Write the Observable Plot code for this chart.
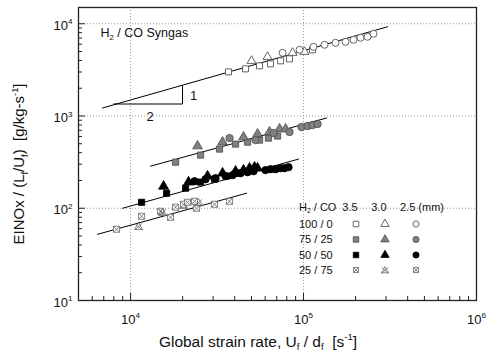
<!DOCTYPE html>
<html><head><meta charset="utf-8">
<script src="https://cdn.jsdelivr.net/npm/d3@7"></script>
<script src="https://cdn.jsdelivr.net/npm/@observablehq/plot@0.6"></script>
<style>
body{margin:0;background:#fff}
svg{display:block}
text{white-space:pre}
</style>
</head><body><div id="chart"></div>
<script>
// ---- Data (strain rate [1/s], EINOx/(Lf/Uf)) ----
// H2/CO = 100/0
const x100_35 = [36850, 46210, 55670, 64420, 73670, 82990, 112700];
const y100_35 = [3008, 3243, 3496, 3675, 3962, 4165, 5217];
const x100_30 = [50060, 61910, 86390, 101340];
const y100_30 = [3962, 4378, 4840, 4962];
const x100_25 = [75650, 94830, 114200, 132200, 153100, 175000, 194600, 213400, 234400, 253900];
const y100_25 = [4840, 5217, 5623, 5915, 6218, 6373, 6700, 7043, 7222, 7786];
// H2/CO = 75/25
const x75_35 = [18200, 25390, 32680, 40460, 47450, 55670, 62730, 70790];
const y75_35 = [316, 377, 438, 496, 521, 548, 576, 606];
const x75_30 = [24380, 34030, 44980, 54210, 63570, 72700, 78740];
const y75_30 = [472, 521, 591, 637, 670, 723, 723];
const x75_25 = [37350, 52780, 67050, 82990, 97370, 105500, 112700, 120500];
const y75_25 = [576, 548, 653, 670, 759, 778, 798, 818];
// H2/CO = 50/50
const x50_35 = [11580, 16150, 20800, 25390, 30590, 35880, 42100];
const y50_35 = [116, 145.5, 165, 192, 206.5, 223, 240];
const x50_30 = [15520, 21640, 27860, 34030, 40460, 44980, 48740, 52080, 54210];
const y50_30 = [173, 192, 223, 240, 252, 259, 272, 279, 272];
const x50_25 = [23440, 27140, 30980, 35400, 38900, 43250, 47450, 51390, 60270, 64420, 68860, 73670, 77690, 81890];
const y50_25 = [196, 206.5, 212, 223, 228.5, 240, 246, 252, 259, 265, 265, 272, 272, 279];
// H2/CO = 25/75
const x25_35 = [8300, 11580, 14900, 17030, 24070];
const y25_35 = [59.2, 81.8, 92.7, 79.8, 100];
const x25_30 = [11120, 15310, 20250, 24720];
const y25_30 = [63.7, 90.5, 107.9, 116];
const x25_25 = [18200, 20250, 21350, 23440, 30590, 37350];
const y25_25 = [102.6, 110.5, 116, 119, 110.5, 119];
// Fit lines (end points)
const fit100x = [6890, 306000], fit100y = [1222, 9276];
const fit75x = [13050, 135900], fit75y = [286, 951];
const fit50x = [8990, 93500], fit50y = [100, 341];
const fit25x = [6445, 46900], fit25y = [52.2, 145.6];
// slope triangle (1:2)
const slopeX = [7980, 19970, 19970], slopeY = [1349, 1349, 2118];
const slopeRise = "1", slopeRun = "2";
// axes
const xMajor = [1e4, 1e5, 1e6];
const xMinor = [6000, 7000, 8000, 9000, 2e4, 3e4, 4e4, 5e4, 6e4, 7e4, 8e4, 9e4, 2e5, 3e5, 4e5, 5e5, 6e5, 7e5, 8e5, 9e5];
const yMajor = [10, 100, 1000, 10000];
const yMinor = [20,30,40,50,60,70,80,90,200,300,400,500,600,700,800,900,2000,3000,4000,5000,6000,7000,8000,9000];
const title = "H_{2} / CO Syngas";
const xLabel = "Global strain rate, U_{f} / d_{f}  [s^{-1}]";
const yLabel = "EINOx / (L_{f}/U_{f})  [g/kg-s^{-1}]";
const legendHead = ["H_{2} / CO", "3.5", "3.0", "2.5 (mm)"];
const legendRows = ["100 / 0", "75 / 25", "50 / 50", "25 / 75"];

const P = (xs, ys) => xs.map((x, i) => ({x, y: ys[i]}));

// custom symbols
const squareX = {draw(c, size) { const w = Math.sqrt(size) / 2;
  c.moveTo(-w,-w); c.lineTo(w,-w); c.lineTo(w,w); c.lineTo(-w,w); c.closePath();
  c.moveTo(-w,-w); c.lineTo(w,w); c.moveTo(w,-w); c.lineTo(-w,w); }};
const triX = {draw(c, size) { const s = Math.sqrt(size) / 2;
  c.moveTo(0,-s*1.1); c.lineTo(s*1.2, s*0.95); c.lineTo(-s*1.2, s*0.95); c.closePath();
  c.moveTo(-s*1.1,-s*0.9); c.lineTo(s*1.1, s*1.1); c.moveTo(s*1.1,-s*0.9); c.lineTo(-s*1.1, s*1.1); }};

const openS = {fill: "white", stroke: "#555", strokeWidth: 0.9};
const grayS = {fill: "#808080", stroke: "#4a4a4a", strokeWidth: 0.8};
const blackS = {fill: "#000", stroke: "#000", strokeWidth: 0.8};
const xS = {fill: "white", stroke: "#666", strokeWidth: 0.8};

const W = 489, H = 353, mL = 78, mR = 13, mT = 7, mB = 53;
const frameW = W - mL - mR, frameH = H - mT - mB;

const dots = (data, sym, r, st) => Plot.dot(data, {x: "x", y: "y", symbol: sym, r, ...st});
const fit = (xs, ys) => Plot.line(P(xs, ys), {x: "x", y: "y", stroke: "#000", strokeWidth: 1});
const fmt = d => `10^{${Math.round(Math.log10(d))}}`;
const axisStroke = "#222";
// inward ticks on bottom and left edges
const ticksX = (vals, len) => Plot.tickX(vals, {x: d => d, insetTop: frameH - len, stroke: axisStroke, strokeWidth: 1});
const ticksY = (vals, len) => Plot.tickY(vals, {y: d => d, insetRight: frameW - len, stroke: axisStroke, strokeWidth: 1});

const chart = Plot.plot({
  width: W, height: H,
  marginLeft: mL, marginRight: mR, marginTop: mT, marginBottom: mB,
  style: {fontFamily: "'Liberation Sans', Arial, sans-serif", fontSize: "12px", color: "#111", background: "#fff"},
  x: {type: "log", domain: [5000, 1e6]},
  y: {type: "log", domain: [10, 15000]},
  marks: [
    Plot.gridX([1e4, 1e5], {stroke: "#999", strokeOpacity: 1, strokeDasharray: "1,2", strokeWidth: 1}),
    Plot.gridY([100, 1000, 10000], {stroke: "#999", strokeOpacity: 1, strokeDasharray: "1,2", strokeWidth: 1}),
    fit(fit100x, fit100y), fit(fit75x, fit75y), fit(fit50x, fit50y), fit(fit25x, fit25y),
    Plot.line(P(slopeX, slopeY), {x: "x", y: "y", stroke: "#000", strokeWidth: 1}),
    Plot.text([slopeRise], {x: slopeX[1], y: Math.sqrt(slopeY[1]*slopeY[2]), dx: 11, dy: 1, fontSize: 13, textAnchor: "middle", fill: "#111"}),
    Plot.text([slopeRun], {x: Math.sqrt(slopeX[0]*slopeX[1]), y: slopeY[0], dy: 13, dx: 2, fontSize: 13, textAnchor: "middle", fill: "#111"}),
    // 100/0 open
    dots(P(x100_35, y100_35), "square", 3.4, openS),
    dots(P(x100_30, y100_30), "triangle", 3.3, openS),
    dots(P(x100_25, y100_25), "circle", 3.5, openS),
    // 75/25 gray
    dots(P(x75_35, y75_35), "square", 3.5, grayS),
    dots(P(x75_30, y75_30), "triangle", 3.6, grayS),
    dots(P(x75_25, y75_25), "circle", 3.7, grayS),
    // 50/50 black
    dots(P(x50_35, y50_35), "square", 3.5, blackS),
    dots(P(x50_30, y50_30), "triangle", 3.7, blackS),
    dots(P(x50_25, y50_25), "circle", 3.7, blackS),
    // 25/75 crossed
    dots(P(x25_35, y25_35), squareX, 3.4, xS),
    dots(P(x25_30, y25_30), triX, 3.8, {...xS, fill: "none"}),
    dots(P(x25_25, y25_25), squareX, 3.4, xS),
    Plot.text([title], {frameAnchor: "top-left", dx: 22, dy: 21, textAnchor: "start", fontSize: 12.5, fill: "#111"}),
    ticksX(xMinor, 4), ticksX(xMajor, 7),
    ticksY(yMinor, 4), ticksY(yMajor, 7),
    Plot.frame({stroke: "#222", strokeWidth: 1.3}),
    Plot.axisX(xMajor, {tickSize: 0, tickPadding: 14, tickFormat: fmt, fontSize: 13, label: null}),
    Plot.axisY(yMajor, {tickSize: 0, tickPadding: 6, tickFormat: fmt, fontSize: 13, dy: 2, label: null})
  ]
});
document.getElementById("chart").appendChild(chart);

const svg = d3.select(chart);
// axis titles
svg.append("text").attr("transform", "translate(19,164) rotate(-90)")
  .attr("text-anchor", "middle").attr("dy", "0.35em").attr("font-size", 15).attr("fill", "#111").text(yLabel);
svg.append("text").attr("x", 258).attr("y", 347)
  .attr("text-anchor", "middle").attr("font-size", 15.5).attr("fill", "#111").text(xLabel);

// legend (inside the frame)
const lg = svg.append("g").attr("font-size", 11).attr("fill", "#111").attr("text-anchor", "start");
const colX = [356, 385, 416], rowY = [224, 239.5, 255, 270], headY = 207, labX = 299;
lg.append("text").attr("x", labX).attr("y", headY).attr("dy", "0.35em").text(legendHead[0]);
lg.append("text").attr("x", 350).attr("y", headY).attr("dy", "0.35em").attr("text-anchor", "middle").text(legendHead[1]);
lg.append("text").attr("x", 379).attr("y", headY).attr("dy", "0.35em").attr("text-anchor", "middle").text(legendHead[2]);
lg.append("text").attr("x", 400).attr("y", headY).attr("dy", "0.35em").attr("text-anchor", "start").text(legendHead[3]);
const rowStyles = [openS, grayS, blackS, xS];
const rowSyms = [
  [[d3.symbolSquare, 30], [d3.symbolTriangle, 30], [d3.symbolCircle, 30]],
  [[d3.symbolSquare, 30], [d3.symbolTriangle, 30], [d3.symbolCircle, 30]],
  [[d3.symbolSquare, 30], [d3.symbolTriangle, 30], [d3.symbolCircle, 30]],
  [[squareX, 26], [triX, 36], [squareX, 26]]
];
legendRows.forEach((lab, i) => {
  lg.append("text").attr("x", labX).attr("y", rowY[i]).attr("dy", "0.35em").attr("text-anchor", "start").text(lab);
  rowSyms[i].forEach(([sym, size], j) => {
    const st = rowStyles[i];
    lg.append("path").attr("d", d3.symbol(sym, size)())
      .attr("transform", `translate(${colX[j]},${rowY[i]})`)
      .attr("fill", (i === 3 && j === 1) ? "none" : st.fill).attr("stroke", st.stroke).attr("stroke-width", st.strokeWidth);
  });
});

// rich text: ^{..} superscript, _{..} subscript
function richify(el) {
  const s = el.textContent;
  if (!/[\^_]\{/.test(s)) return;
  const fs = parseFloat(getComputedStyle(el).fontSize) || 12;
  while (el.firstChild) el.removeChild(el.firstChild);
  const re = /([\^_])\{([^}]*)\}/g;
  let last = 0, m, off = 0;
  const add = (txt, kind) => {
    const t = document.createElementNS("http://www.w3.org/2000/svg", "tspan");
    const target = kind === "^" ? -0.42 * fs : kind === "_" ? 0.22 * fs : 0;
    const dy = target - off; off = target;
    if (dy) t.setAttribute("dy", dy);
    if (kind) t.setAttribute("font-size", 0.62 * fs);
    t.textContent = txt; el.appendChild(t);
  };
  while ((m = re.exec(s))) {
    if (m.index > last) add(s.slice(last, m.index), null);
    add(m[2], m[1]); last = re.lastIndex;
  }
  if (last < s.length) add(s.slice(last), null);
}
chart.querySelectorAll("text").forEach(richify);
</script>
</body></html>
